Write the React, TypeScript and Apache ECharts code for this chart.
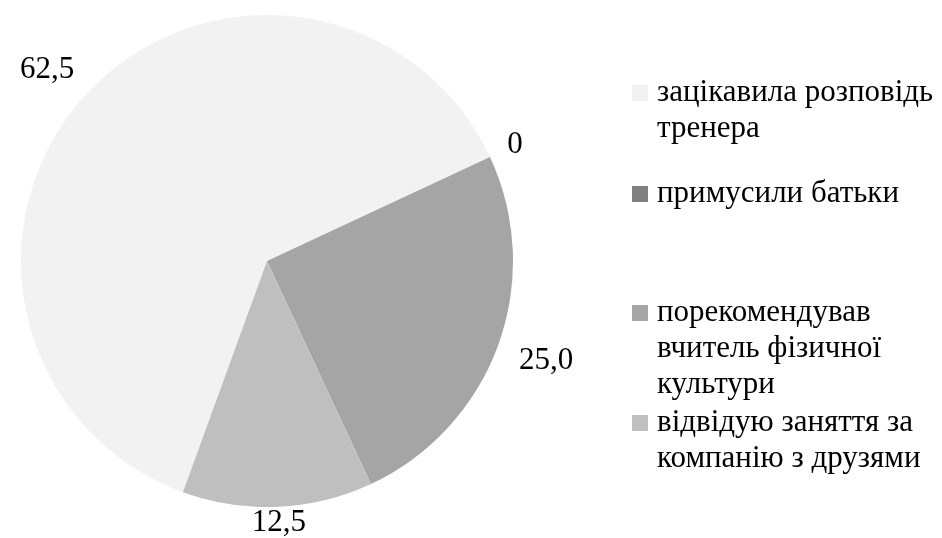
import React, { useEffect, useRef } from "react";
import * as echarts from "echarts";

const categories = [
  "зацікавила розповідь\nтренера",
  "примусили батьки",
  "порекомендував\nвчитель фізичної\nкультури",
  "відвідую заняття за\nкомпанію з друзями",
];
const values = [62.5, 0, 25.0, 12.5];
const colors = ["#f2f2f2", "#808080", "#a5a5a5", "#bfbfbf"];

// layout / style constants
const CX = 267;
const CY = 261;
const RADIUS = 246;
const START_ANGLE = 250;
const labelGaps = [25, 20, 24, -2];
const legendIconCenters = [93, 194, 313, 423];
const LEGEND_X = 632;
const ICON = 16;
const LINE_H = 36;
const FONT_SIZE = 31;
const FONT = "Liberation Serif";
const LEGEND_FONT = "Times New Roman, serif";

const fmt = (v: number) => (v === 0 ? "0" : v.toFixed(1).replace(".", ","));

export default function App() {
  const ref = useRef<HTMLDivElement>(null);
  useEffect(() => {
    if (!ref.current) return;
    const chart = echarts.init(ref.current, undefined, { renderer: "svg" });
    const total = values.reduce((a, b) => a + b, 0);
    const midAngles: number[] = [];
    let cum = 0;
    values.forEach((v) => {
      midAngles.push(START_ANGLE - (360 * (cum + v / 2)) / total);
      cum += v;
    });

    const legendGraphics: any[] = [];
    categories.forEach((name, i) => {
      legendGraphics.push({
        type: "rect",
        shape: {
          x: LEGEND_X,
          y: legendIconCenters[i] - ICON / 2,
          width: ICON,
          height: ICON,
        },
        style: { fill: colors[i] },
      });
      name.split("\n").forEach((line, j) => {
        legendGraphics.push({
          type: "text",
          left: LEGEND_X + ICON + 9,
          top: legendIconCenters[i] - 3 + j * LINE_H - FONT_SIZE / 2,
          style: {
            text: line,
            font: `${FONT_SIZE}px ${LEGEND_FONT}`,
            fontFamily: LEGEND_FONT,
            fontSize: FONT_SIZE,
            fill: "#000",
          },
        });
      });
    });

    chart.setOption({
      animation: false,
      graphic: legendGraphics,
      series: [
        {
          type: "pie",
          center: [CX, CY],
          radius: RADIUS,
          startAngle: START_ANGLE,
          clockwise: true,
          avoidLabelOverlap: false,
          label: {
            show: true,
            fontFamily: FONT,
            fontSize: FONT_SIZE,
            color: "#000",
            formatter: (p: any) => fmt(p.value),
          },
          labelLine: { show: false },
          labelLayout: (p: any) => {
            const i = p.dataIndex;
            const a = (midAngles[i] * Math.PI) / 180;
            const dx = Math.cos(a);
            const dy = -Math.sin(a);
            const R = RADIUS + labelGaps[i];
            const w = p.labelRect.width;
            const h = p.labelRect.height;
            return {
              x: CX + R * dx + (dx * w) / 2,
              y: CY + R * dy + (dy * h) / 2,
              align: "center",
              verticalAlign: "middle",
            };
          },
          data: categories.map((name, i) => ({
            name,
            value: values[i],
            itemStyle: { color: colors[i] },
          })),
        },
      ],
    });
    return () => chart.dispose();
  }, []);
  return (
    <div
      ref={ref}
      style={{ position: "fixed", left: 0, top: 0, width: 942, height: 538 }}
    />
  );
}
